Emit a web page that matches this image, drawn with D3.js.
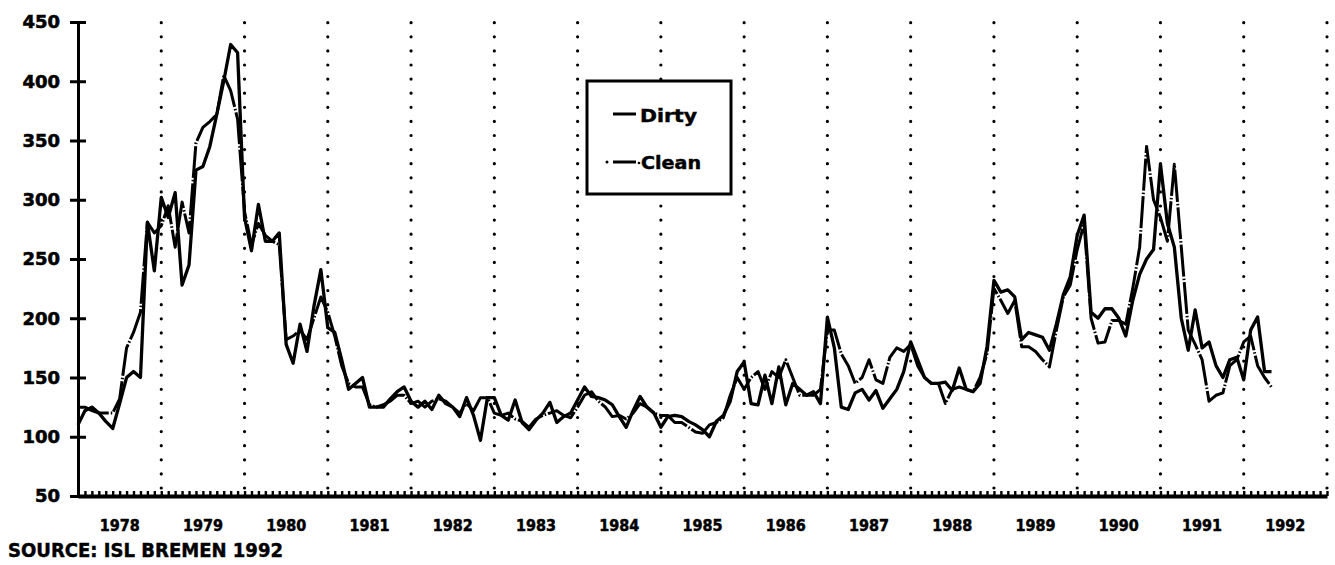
<!DOCTYPE html>
<html>
<head>
<meta charset="utf-8">
<script src="https://cdnjs.cloudflare.com/ajax/libs/d3/7.8.5/d3.min.js"></script>
<style>
  body { margin: 0; background: #fff; }
  svg { display: block; }
  text { font-family: "DejaVu Sans Condensed", "DejaVu Sans", sans-serif; font-weight: bold; fill: #000; }
</style>
</head>
<body>
<svg id="chart" width="1335" height="565"></svg>
<script>
  // monthly values, Jan 1978 .. May 1992
  var years = ["1978", "1979", "1980", "1981", "1982", "1983", "1984", "1985",
    "1986", "1987", "1988", "1989", "1990", "1991", "1992"];
  var yTicks = [50, 100, 150, 200, 250, 300, 350, 400, 450];

  var dirty = [
    110, 122, 125, 120, 113, 107, 128, 150, 155, 150, 281, 240,
    302, 285, 306, 228, 245, 325, 328, 345, 372, 400, 431, 424,
    285, 257, 296, 265, 265, 272, 178, 162, 195, 172, 210, 241,
    192, 188, 165, 140, 145, 150, 125, 125, 125, 132, 138, 142,
    130, 125, 130, 123, 135, 128, 125, 117, 133, 118, 97, 133,
    133, 118, 114, 131, 112, 106, 114, 120, 129, 112, 117, 120,
    131, 142, 134, 133, 131, 127, 117, 108, 122, 134, 125, 120,
    108, 117, 118, 117, 113, 110, 106, 100, 113, 118, 130, 155,
    163, 128, 127, 152, 128, 159, 127, 145, 140, 135, 138, 128,
    201, 175, 125, 123, 137, 140, 131, 139, 124, 132, 140, 155,
    180, 165, 150, 145, 145, 146, 139, 158, 140, 138, 145, 176,
    232, 222, 224, 218, 182, 188, 186, 184, 173, 195, 220, 235,
    270, 287, 205, 200, 208, 208, 200, 185, 215, 237, 250, 258,
    330, 280, 260, 200, 173, 207, 175, 180, 160, 150, 165, 167,
    148, 190, 201, 155, 155
  ];
  var clean = [
    125, 125, 122, 120, 120, 120, 132, 175, 188, 205, 281, 272,
    278, 295, 260, 298, 272, 348, 361, 366, 372, 405, 392, 368,
    290, 262, 280, 270, 265, 262, 182, 185, 190, 182, 200, 218,
    205, 185, 160, 145, 142, 142, 127, 125, 127, 130, 135, 135,
    128, 130, 125, 130, 132, 130, 125, 120, 128, 122, 133, 133,
    120, 118, 120, 115, 113, 108, 115, 118, 120, 122, 118, 116,
    125, 135, 138, 130, 125, 117, 118, 115, 120, 128, 125, 120,
    118, 118, 112, 112, 108, 104, 103, 110, 112, 116, 135, 150,
    140, 150, 155, 140, 155, 150, 165, 150, 135, 135, 135, 140,
    190, 190, 170, 160, 145, 150, 165, 148, 145, 167, 175, 172,
    178, 160, 150, 145, 145, 128, 140, 142, 140, 138, 150, 170,
    225, 215, 204, 215, 176, 176, 172, 165, 159, 190, 218, 228,
    258, 280, 200, 179, 180, 198, 198, 195, 225, 260, 345, 300,
    285, 265, 330, 260, 190, 178, 165, 130, 135, 137, 160, 165,
    180, 185, 160, 150, 142
  ];

  var svg = d3.select("#chart");

  var x = d3.scaleLinear().domain([0, years.length * 12]).range([78, 1327]);
  var y = d3.scaleLinear().domain([50, 450]).range([496, 22]);

  // year separators (dotted)
  svg.append("g")
    .selectAll("line")
    .data(d3.range(1, years.length + 1))
    .enter().append("line")
    .attr("x1", function(d) { return x(d * 12); })
    .attr("x2", function(d) { return x(d * 12); })
    .attr("y1", y(50) - 8)
    .attr("y2", y(450))
    .attr("stroke", "#000")
    .attr("stroke-width", 3.2)
    .attr("stroke-linecap", "round")
    .attr("stroke-dasharray", "0,14.1");

  // y axis
  var yAxis = svg.append("g")
    .attr("transform", "translate(78,0)")
    .call(d3.axisLeft(y).tickValues(yTicks).tickSizeInner(8).tickSizeOuter(0).tickPadding(10));
  yAxis.select(".domain").attr("stroke-width", 3);
  yAxis.selectAll(".tick line").attr("x2", 8).attr("x1", -8).attr("stroke-width", 3);
  yAxis.selectAll(".tick text")
    .style("font-family", "'DejaVu Sans', sans-serif")
    .style("font-weight", "bold")
    .style("font-size", "18px")
    .attr("stroke", "#000")
    .attr("stroke-width", 0.6);

  // x axis with monthly ticks
  var xAxis = svg.append("g")
    .attr("transform", "translate(0," + y(50) + ")")
    .call(d3.axisTop(x).tickValues(d3.range(0, years.length * 12 + 1)).tickSizeInner(5).tickSizeOuter(0).tickFormat(""));
  xAxis.select(".domain").attr("stroke-width", 4);
  xAxis.selectAll(".tick line").attr("stroke-width", 2.4);

  svg.append("g")
    .selectAll("text")
    .data(years)
    .enter().append("text")
    .attr("x", function(d, i) { return x(i * 12 + 6); })
    .attr("y", 531)
    .attr("text-anchor", "middle")
    .attr("textLength", 40)
    .attr("lengthAdjust", "spacingAndGlyphs")
    .attr("stroke", "#000")
    .attr("stroke-width", 0.5)
    .style("font-size", "16px")
    .text(function(d) { return d; });

  // series
  var line = d3.line()
    .x(function(d, i) { return x(i); })
    .y(function(d) { return y(d); });

  svg.append("path")
    .datum(clean)
    .attr("d", line)
    .attr("fill", "none")
    .attr("stroke", "#000")
    .attr("stroke-width", 3)
    .attr("stroke-linejoin", "round")
    .attr("stroke-dasharray", "32,2,1.5,2");

  svg.append("path")
    .datum(dirty)
    .attr("d", line)
    .attr("fill", "none")
    .attr("stroke", "#000")
    .attr("stroke-width", 3.3)
    .attr("stroke-linejoin", "round");

  // legend
  var lg = svg.append("g");
  lg.append("rect")
    .attr("x", 587).attr("y", 81)
    .attr("width", 144).attr("height", 113)
    .attr("fill", "#fff")
    .attr("stroke", "#000")
    .attr("stroke-width", 3);
  lg.append("line")
    .attr("x1", 613).attr("x2", 636).attr("y1", 114).attr("y2", 114)
    .attr("stroke", "#000").attr("stroke-width", 3);
  lg.append("text")
    .attr("x", 640).attr("y", 122)
    .attr("textLength", 57).attr("lengthAdjust", "spacingAndGlyphs")
    .attr("stroke", "#000").attr("stroke-width", 0.4)
    .style("font-size", "17px")
    .text("Dirty");
  lg.append("line")
    .attr("x1", 613).attr("x2", 636).attr("y1", 162).attr("y2", 162)
    .attr("stroke", "#000").attr("stroke-width", 3);
  lg.append("circle").attr("cx", 607).attr("cy", 162).attr("r", 1.5).attr("fill", "#000");
  lg.append("circle").attr("cx", 639).attr("cy", 163).attr("r", 1.3).attr("fill", "#000");
  lg.append("text")
    .attr("x", 641).attr("y", 169)
    .attr("textLength", 60).attr("lengthAdjust", "spacingAndGlyphs")
    .attr("stroke", "#000").attr("stroke-width", 0.4)
    .style("font-size", "17px")
    .text("Clean");

  svg.append("text")
    .attr("x", 8).attr("y", 557)
    .attr("textLength", 275).attr("lengthAdjust", "spacingAndGlyphs")
    .attr("stroke", "#000").attr("stroke-width", 0.4)
    .style("font-size", "19px")
    .text("SOURCE: ISL BREMEN 1992");
</script>
</body>
</html>
